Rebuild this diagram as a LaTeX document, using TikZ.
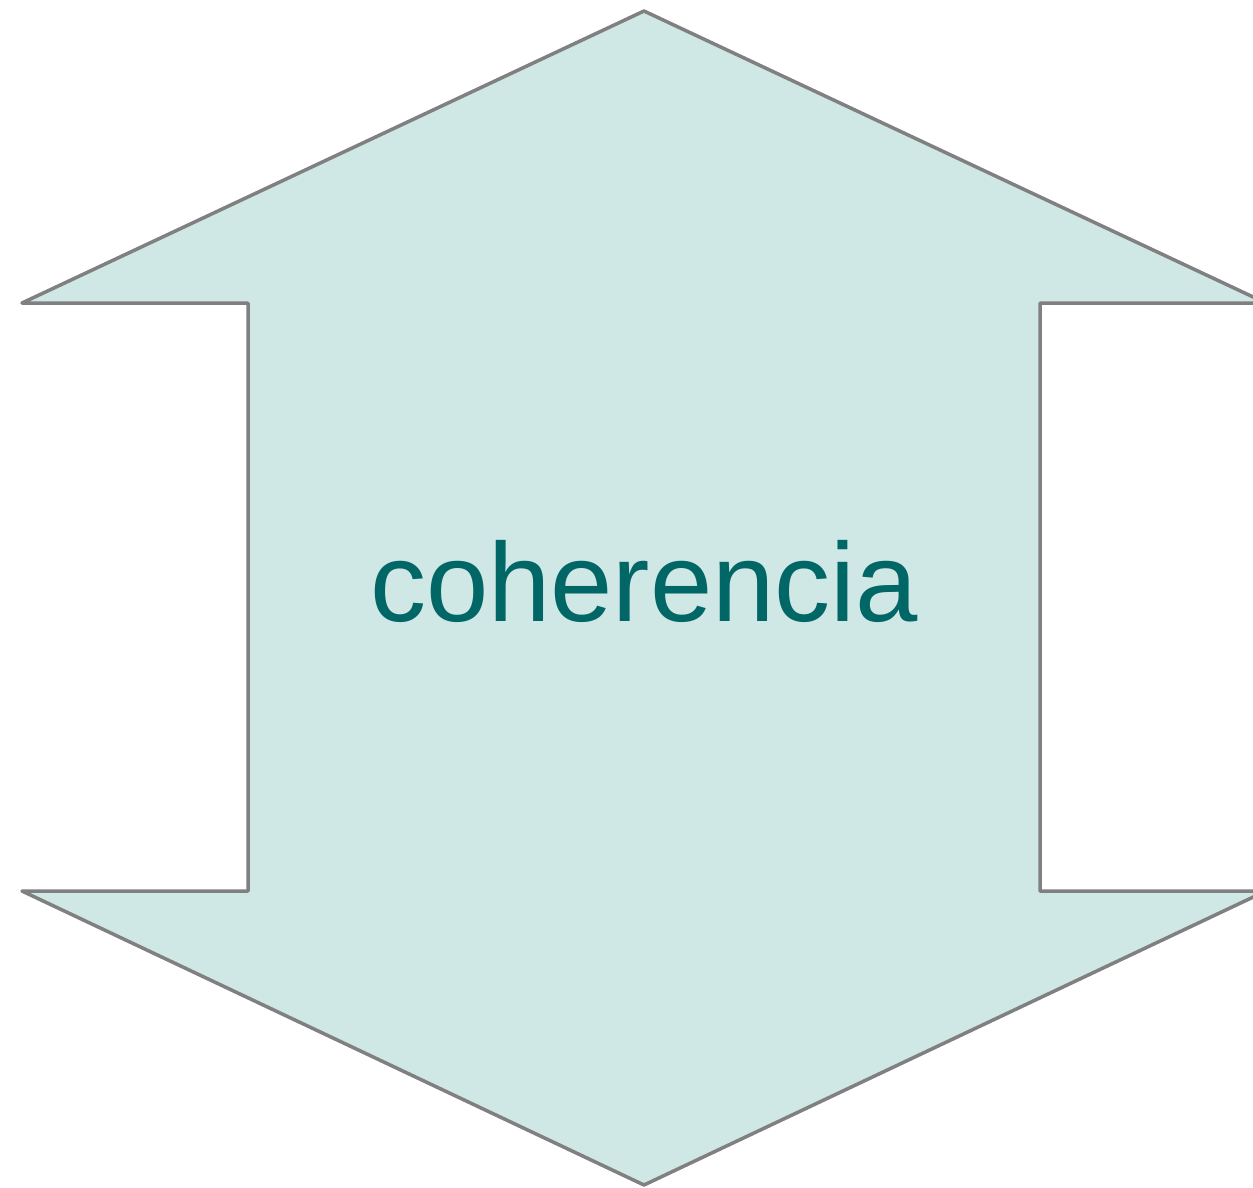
\documentclass[tikz,border=0pt]{standalone}
\usepackage{fontspec}
\setmainfont{Liberation Sans}
\definecolor{arrowfill}{HTML}{CFE7E5}
\definecolor{arrowline}{HTML}{808080}
\definecolor{textteal}{HTML}{006666}
\begin{document}
\begin{tikzpicture}[x=1pt,y=-1pt,
  arrowshape/.style={fill=arrowfill,draw=arrowline,line width=3.5pt,line join=round},
  label/.style={text=textteal,font=\fontsize{112}{130}\selectfont,inner sep=0pt,anchor=base}]
\clip (0,0) rectangle (1253,1187);
\useasboundingbox (0,0) rectangle (1253,1187);
\draw[arrowshape] (644,11) -- (1266,303) -- (1040,303) -- (1040,891) -- (1266,891)
  -- (644,1185) -- (22,891) -- (248,891) -- (248,303) -- (22,303) -- cycle;
\node[label] (t) at (644,621) {coherencia};
\end{tikzpicture}
\end{document}
